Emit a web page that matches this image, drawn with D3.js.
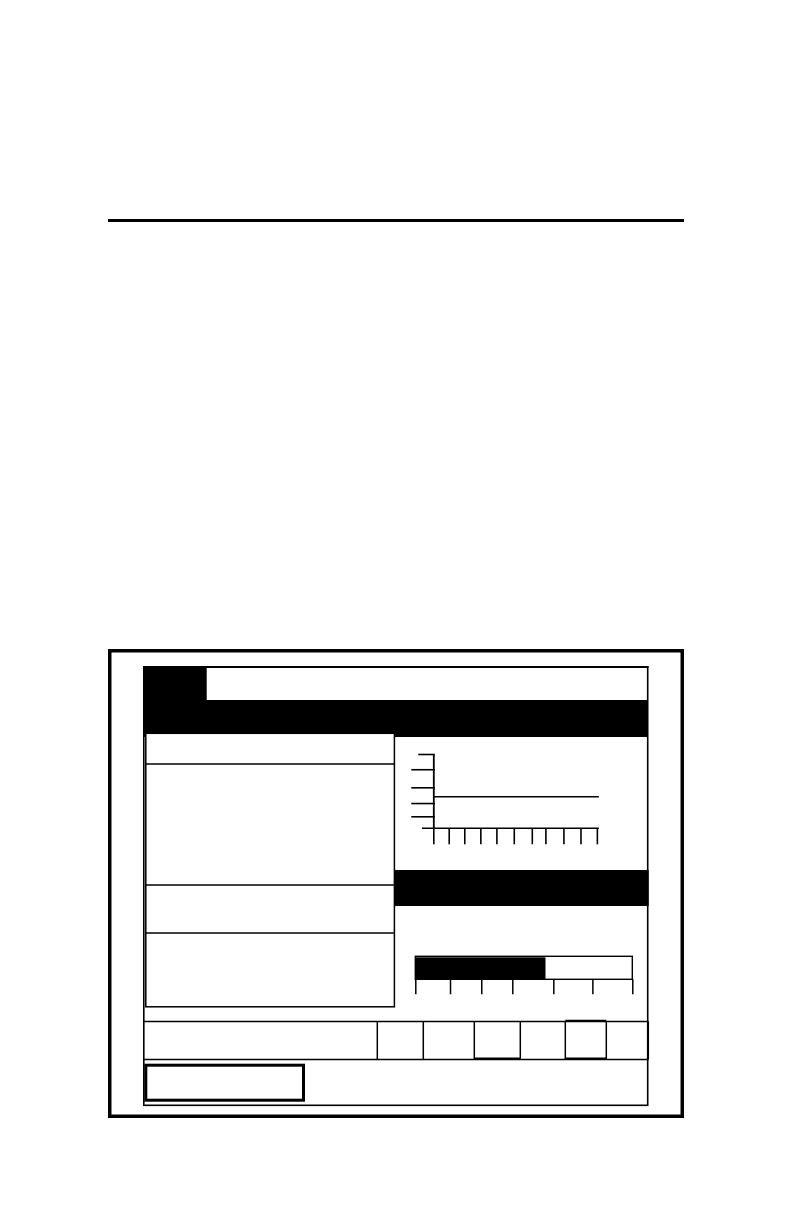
<!DOCTYPE html>
<html>
<head>
<meta charset="utf-8">
<script src="https://cdn.jsdelivr.net/npm/d3@7/dist/d3.min.js"></script>
<style>
  html, body { margin: 0; padding: 0; background: #fff; }
  svg { display: block; }
</style>
</head>
<body>
<script>
// ---- data ----
const trendXTicks = [0, 0.94, 1.89, 2.87, 3.85, 4.91, 6.01, 6.84, 7.94, 8.98, 9.98];
const trendYTicks = [0.97, 2.04, 3.31, 4.77, 6];
const trendLine = [{ x: 0, y: 2.55 }, { x: 10.1, y: 2.55 }];
const gaugeTicks = [0, 16, 30.4, 44.7, 63.6, 81.6, 100];
const gaugeValue = [60];
const buttonEdges = [377.3, 423.3, 474.3, 520.3, 565.3, 606.3, 648.3];
const pressedButtons = [2, 4];

const W = 792, H = 1224;
const svg = d3.select("body").append("svg")
  .attr("width", W).attr("height", H)
  .attr("viewBox", `0 0 ${W} ${H}`);

svg.append("rect").attr("width", W).attr("height", H).attr("fill", "#fff");

// top rule
svg.append("rect").attr("x", 108).attr("y", 219).attr("width", 576).attr("height", 3).attr("fill", "#000");

// outer frame
svg.append("rect").attr("x", 109.75).attr("y", 650.75).attr("width", 572.5).attr("height", 465.5)
  .attr("fill", "none").attr("stroke", "#000").attr("stroke-width", 3.5);

// screen
svg.append("rect").attr("x", 143.8).attr("y", 666.8).attr("width", 503.9).attr("height", 438.5)
  .attr("fill", "#fff").attr("stroke", "#000").attr("stroke-width", 1.6);
svg.append("line").attr("x1", 143).attr("x2", 648.5).attr("y1", 667).attr("y2", 667)
  .attr("stroke", "#000").attr("stroke-width", 2);

// top-left tab and header band
svg.append("rect").attr("x", 143).attr("y", 666).attr("width", 63.7).attr("height", 35).attr("fill", "#000");
svg.append("rect").attr("x", 143).attr("y", 700).attr("width", 505).attr("height", 37).attr("fill", "#000");

// left panel
svg.append("rect").attr("x", 145.8).attr("y", 733.3).attr("width", 248.6).attr("height", 273.5)
  .attr("fill", "#fff").attr("stroke", "#000").attr("stroke-width", 1.5);
[764, 885, 933].forEach(y => {
  svg.append("line").attr("x1", 145).attr("x2", 394.5).attr("y1", y).attr("y2", y)
    .attr("stroke", "#000").attr("stroke-width", 1.5);
});

// second band
svg.append("rect").attr("x", 394).attr("y", 870).attr("width", 254.7).attr("height", 36).attr("fill", "#000");

// ---- trend chart ----
const x = d3.scaleLinear().domain([0, 10]).range([433.3, 597.2]);
const y = d3.scaleLinear().domain([0, 6]).range([828.3, 754]);

const g = svg.append("g");
// y axis
const yAxis = d3.axisLeft(y).tickValues(trendYTicks).tickSize(22).tickSizeOuter(0).tickFormat("");
const yg = g.append("g").attr("transform", `translate(${x(0)},0)`).call(yAxis);
yg.select(".domain").attr("stroke-width", 1.8);
yg.selectAll(".tick line").attr("stroke-width", 1.6).attr("x2", -22).attr("x1", 1.5);
yg.selectAll(".tick").filter(d => d === 6).select("line").attr("x2", -15);

// x axis
const xAxis = d3.axisBottom(x).tickValues(trendXTicks).tickSize(16).tickSizeOuter(0).tickFormat("");
const xg = g.append("g").attr("transform", `translate(0,${y(0)})`).call(xAxis);
xg.select(".domain").remove();
xg.selectAll(".tick line").attr("stroke-width", 1.6);
g.append("line").attr("x1", x(-0.69)).attr("x2", x(10.1)).attr("y1", y(0)).attr("y2", y(0))
  .attr("stroke", "#000").attr("stroke-width", 1.6);

// flat trend line
g.append("path").datum(trendLine)
  .attr("d", d3.line().x(d => x(d.x)).y(d => y(d.y)))
  .attr("fill", "none").attr("stroke", "#000").attr("stroke-width", 1.6);

// ---- bar gauge ----
const gx = d3.scaleLinear().domain([0, 100]).range([415.3, 632.3]);
const gTop = 956.3, gBot = 979.3;
svg.selectAll(".gauge-fill").data(gaugeValue).join("rect")
  .attr("x", gx(0)).attr("y", gTop + 1).attr("width", d => gx(d) - gx(0)).attr("height", gBot - gTop - 1)
  .attr("fill", "#000");
svg.append("rect").attr("x", gx(0)).attr("y", gTop).attr("width", gx(100) - gx(0)).attr("height", gBot - gTop)
  .attr("fill", "none").attr("stroke", "#000").attr("stroke-width", 1.4);
const gAxis = d3.axisBottom(gx).tickValues(gaugeTicks).tickSize(15).tickSizeOuter(0).tickFormat("");
const ga = svg.append("g").attr("transform", `translate(0,${gBot})`).call(gAxis);
ga.select(".domain").remove();
ga.selectAll(".tick line").attr("stroke-width", 1.5);

// ---- bottom row ----
const rowTop = 1021.6, rowBot = 1059.4;
svg.append("line").attr("x1", 143).attr("x2", 648.5).attr("y1", rowTop).attr("y2", rowTop)
  .attr("stroke", "#000").attr("stroke-width", 1.5);
svg.append("line").attr("x1", 143).attr("x2", 648.5).attr("y1", rowBot).attr("y2", rowBot)
  .attr("stroke", "#000").attr("stroke-width", 1.5);
svg.selectAll(".btn-edge").data(buttonEdges).join("line")
  .attr("x1", d => d).attr("x2", d => d).attr("y1", rowTop).attr("y2", rowBot)
  .attr("stroke", "#000").attr("stroke-width", 1.5);
pressedButtons.forEach(i => {
  const x0 = buttonEdges[i], x1 = buttonEdges[i + 1];
  svg.append("line").attr("x1", x0).attr("x2", x1).attr("y1", rowBot - 0.8).attr("y2", rowBot - 0.8)
    .attr("stroke", "#000").attr("stroke-width", 2.4);
  if (i === 4) {
    svg.append("line").attr("x1", x0).attr("x2", x1).attr("y1", rowTop - 1).attr("y2", rowTop - 1)
      .attr("stroke", "#000").attr("stroke-width", 1.5);
  }
});

// bottom thick box
svg.append("rect").attr("x", 145.8).attr("y", 1065.2).attr("width", 157.7).attr("height", 35)
  .attr("fill", "none").attr("stroke", "#000").attr("stroke-width", 3);
</script>
</body>
</html>
